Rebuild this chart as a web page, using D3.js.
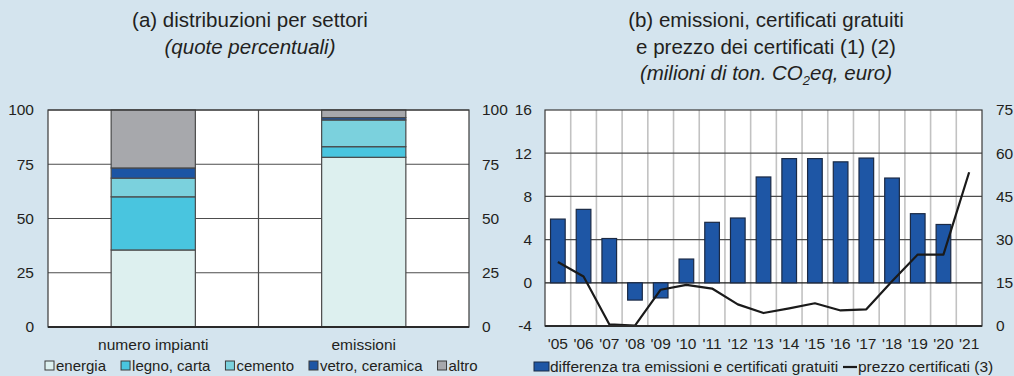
<!DOCTYPE html>
<html>
<head>
<meta charset="utf-8">
<script src="https://cdn.jsdelivr.net/npm/d3@7/dist/d3.min.js"></script>
<style>
  html, body { margin: 0; padding: 0; background: #d4e4ee; }
  svg { display: block; }
  text { font-family: "Liberation Sans", Arial, Helvetica, sans-serif; fill: #231f20; }
</style>
</head>
<body>
<svg id="chart" width="1014" height="376"></svg>
<script>
// ---- Panel (a): sector shares (percent) ----
const groupsA = ["numero impianti", "emissioni"];
const sectorNames = ["energia", "legno, carta", "cemento", "vetro, ceramica", "altro"];
const energia = [35.5, 78.2];
const legnoCarta = [24.5, 4.9];
const cemento = [8.6, 12.3];
const vetroCeramica = [4.7, 1.1];
const altro = [26.7, 3.5];
const ticksA = [0, 25, 50, 75, 100];

// ---- Panel (b): emissions minus free allowances, allowance price ----
const years = ["'05", "'06", "'07", "'08", "'09", "'10", "'11", "'12", "'13", "'14", "'15", "'16", "'17", "'18", "'19", "'20", "'21"];
const differenza = [5.9, 6.8, 4.1, -1.6, -1.4, 2.2, 5.6, 6.0, 9.8, 11.5, 11.5, 11.2, 11.55, 9.7, 6.4, 5.4, null];
const prezzo = [22.2, 17.2, 0.6, 0.1, 12.6, 14.3, 13.0, 7.5, 4.5, 6.1, 7.9, 5.4, 5.8, 15.5, 24.8, 24.8, 53.4];
const ticksBLeft = [-4, 0, 4, 8, 12, 16];
const ticksBRight = [0, 15, 30, 45, 60, 75];

const sectorColors = ["#ddf0ef", "#49c5df", "#7bd1dd", "#1c55a4", "#a7a8ac"];
const barBlue = "#1e56a5";
const gridDark = "#4d4d4d";
const plainNum = d => String(d); // hyphen-minus for negatives

const svg = d3.select("#chart");
svg.append("rect").attr("width", 1014).attr("height", 376).attr("fill", "#d4e4ee");

// ================= Panel (a) =================
const A = { left: 48, right: 469, top: 110, bottom: 327 };
const xA = d3.scaleBand().domain(groupsA).range([A.left, A.right]).paddingInner(0.6).paddingOuter(0.3);
const yA = d3.scaleLinear().domain([0, 100]).range([A.bottom, A.top]);
const gA = svg.append("g");

gA.append("rect").attr("x", A.left).attr("y", A.top).attr("width", A.right - A.left).attr("height", A.bottom - A.top).attr("fill", "#fff");

// horizontal gridlines
gA.append("g").selectAll("line").data(ticksA.filter(d => d > 0)).join("line")
  .attr("x1", A.left).attr("x2", A.right).attr("y1", d => yA(d)).attr("y2", d => yA(d))
  .attr("stroke", gridDark).attr("stroke-width", 1.2);
// category separator
gA.append("line").attr("x1", (A.left + A.right) / 2).attr("x2", (A.left + A.right) / 2)
  .attr("y1", A.top).attr("y2", A.bottom).attr("stroke", gridDark).attr("stroke-width", 1.2);

// stacked bars
const tableA = groupsA.map((g, i) => ({
  group: g, energia: energia[i], legno: legnoCarta[i], cemento: cemento[i], vetro: vetroCeramica[i], altro: altro[i]
}));
const keysA = ["energia", "legno", "cemento", "vetro", "altro"];
const stackA = d3.stack().keys(keysA)(tableA);
gA.append("g").selectAll("g").data(stackA).join("g")
  .attr("fill", (d, i) => sectorColors[i])
  .selectAll("rect").data(d => d).join("rect")
  .attr("x", d => xA(d.data.group))
  .attr("width", xA.bandwidth())
  .attr("y", d => yA(d[1]))
  .attr("height", d => yA(d[0]) - yA(d[1]))
  .attr("stroke", "#4a4a4a").attr("stroke-width", 1.2);

// frame
gA.append("rect").attr("x", A.left).attr("y", A.top).attr("width", A.right - A.left).attr("height", A.bottom - A.top)
  .attr("fill", "none").attr("stroke", "#3a3a3a").attr("stroke-width", 1.2);
gA.append("line").attr("x1", A.left).attr("x2", A.right).attr("y1", A.bottom).attr("y2", A.bottom)
  .attr("stroke", "#2a2a2a").attr("stroke-width", 2);

// axes labels
const axLA = gA.append("g").attr("transform", `translate(${A.left},0)`)
  .call(d3.axisLeft(yA).tickValues(ticksA).tickFormat(plainNum).tickSize(0).tickPadding(14));
const axRA = gA.append("g").attr("transform", `translate(${A.right},0)`)
  .call(d3.axisRight(yA).tickValues(ticksA).tickFormat(plainNum).tickSize(0).tickPadding(13));
const axBA = gA.append("g").attr("transform", `translate(0,${A.bottom})`)
  .call(d3.axisBottom(xA).tickSize(0).tickPadding(12));
[axLA, axRA, axBA].forEach(a => {
  a.select(".domain").remove();
  a.selectAll("text").attr("font-size", 15.5).attr("font-family", null).attr("fill", "#231f20");
});

// titles (a)
svg.append("text").attr("x", 250).attr("y", 27).attr("text-anchor", "middle").attr("font-size", 20.5)
  .text("(a) distribuzioni per settori");
svg.append("text").attr("x", 250).attr("y", 54).attr("text-anchor", "middle").attr("font-size", 20.5)
  .attr("font-style", "italic").text("(quote percentuali)");

// legend (a)
const legA = svg.append("g");
let lx = 45;
sectorNames.forEach((name, i) => {
  legA.append("rect").attr("x", lx).attr("y", 361).attr("width", 9).attr("height", 9)
    .attr("fill", sectorColors[i]).attr("stroke", "#3a3a3a").attr("stroke-width", 1);
  const t = legA.append("text").attr("x", lx + 11).attr("y", 371).attr("font-size", 15).text(name);
  lx = lx + 11 + t.node().getComputedTextLength() + 15;
});

// ================= Panel (b) =================
const B = { left: 545, right: 982, top: 110, bottom: 326 };
const xB = d3.scaleBand().domain(years).range([B.left, B.right]).paddingInner(0.43).paddingOuter(0.215);
const yB = d3.scaleLinear().domain([-4, 16]).range([B.bottom, B.top]);
const yB2 = d3.scaleLinear().domain([0, 75]).range([B.bottom, B.top]);
const gB = svg.append("g");

gB.append("rect").attr("x", B.left).attr("y", B.top).attr("width", B.right - B.left).attr("height", B.bottom - B.top).attr("fill", "#fff");

// vertical gridlines between years
gB.append("g").selectAll("line").data(years.slice(1)).join("line")
  .attr("x1", d => xB(d) - xB.step() * xB.paddingInner() / 2)
  .attr("x2", d => xB(d) - xB.step() * xB.paddingInner() / 2)
  .attr("y1", B.top).attr("y2", B.bottom)
  .attr("stroke", "#c2c2c2").attr("stroke-width", 1.6);
// horizontal gridlines
gB.append("g").selectAll("line").data(ticksBLeft.filter(d => d > -4 && d < 16)).join("line")
  .attr("x1", B.left).attr("x2", B.right).attr("y1", d => yB(d)).attr("y2", d => yB(d))
  .attr("stroke", d => d === 0 ? "#1a1a1a" : gridDark).attr("stroke-width", 1.2);

// bars
const barData = years.map((y, i) => ({ year: y, v: differenza[i] })).filter(d => d.v !== null);
gB.append("g").selectAll("rect").data(barData).join("rect")
  .attr("x", d => xB(d.year))
  .attr("width", xB.bandwidth())
  .attr("y", d => yB(Math.max(0, d.v)))
  .attr("height", d => Math.abs(yB(d.v) - yB(0)))
  .attr("fill", barBlue).attr("stroke", "#1b2a45").attr("stroke-width", 1.2);

// price line (right axis)
const line = d3.line()
  .x((d, i) => xB(years[i]) + xB.bandwidth() / 2)
  .y(d => yB2(d));
gB.append("path").datum(prezzo).attr("d", line)
  .attr("fill", "none").attr("stroke", "#1a1a1a").attr("stroke-width", 2.2).attr("stroke-linejoin", "round");

// frame
gB.append("rect").attr("x", B.left).attr("y", B.top).attr("width", B.right - B.left).attr("height", B.bottom - B.top)
  .attr("fill", "none").attr("stroke", "#3a3a3a").attr("stroke-width", 1.2);
gB.append("line").attr("x1", B.left).attr("x2", B.right).attr("y1", B.bottom).attr("y2", B.bottom)
  .attr("stroke", "#2a2a2a").attr("stroke-width", 2);

const axLB = gB.append("g").attr("transform", `translate(${B.left},0)`)
  .call(d3.axisLeft(yB).tickValues(ticksBLeft).tickFormat(plainNum).tickSize(0).tickPadding(13));
const axRB = gB.append("g").attr("transform", `translate(${B.right},0)`)
  .call(d3.axisRight(yB2).tickValues(ticksBRight).tickFormat(plainNum).tickSize(0).tickPadding(14));
const axBB = gB.append("g").attr("transform", `translate(0,${B.bottom})`)
  .call(d3.axisBottom(xB).tickSize(0).tickPadding(12));
[axLB, axRB, axBB].forEach(a => {
  a.select(".domain").remove();
  a.selectAll("text").attr("font-size", 15.5).attr("font-family", null).attr("fill", "#231f20");
});

// titles (b)
const cxB = 766;
svg.append("text").attr("x", cxB).attr("y", 27).attr("text-anchor", "middle").attr("font-size", 20.5)
  .text("(b) emissioni, certificati gratuiti");
svg.append("text").attr("x", cxB).attr("y", 54).attr("text-anchor", "middle").attr("font-size", 20.5)
  .text("e prezzo dei certificati (1) (2)");
const t3 = svg.append("text").attr("x", cxB).attr("y", 80).attr("text-anchor", "middle").attr("font-size", 20.5)
  .attr("font-style", "italic");
t3.append("tspan").text("(milioni di ton. CO");
t3.append("tspan").attr("font-size", 13).attr("dy", 5).text("2");
t3.append("tspan").attr("dy", -5).text("eq, euro)");

// legend (b)
const legB = svg.append("g");
legB.append("rect").attr("x", 534).attr("y", 362).attr("width", 15).attr("height", 9)
  .attr("fill", barBlue).attr("stroke", "#1b2a45").attr("stroke-width", 1);
legB.append("text").attr("x", 550).attr("y", 372).attr("font-size", 15.5).text("differenza tra emissioni e certificati gratuiti");
legB.append("line").attr("x1", 843).attr("x2", 857).attr("y1", 367).attr("y2", 367)
  .attr("stroke", "#1a1a1a").attr("stroke-width", 2.2);
legB.append("text").attr("x", 858).attr("y", 372).attr("font-size", 15.5).text("prezzo certificati (3)");
</script>
</body>
</html>
